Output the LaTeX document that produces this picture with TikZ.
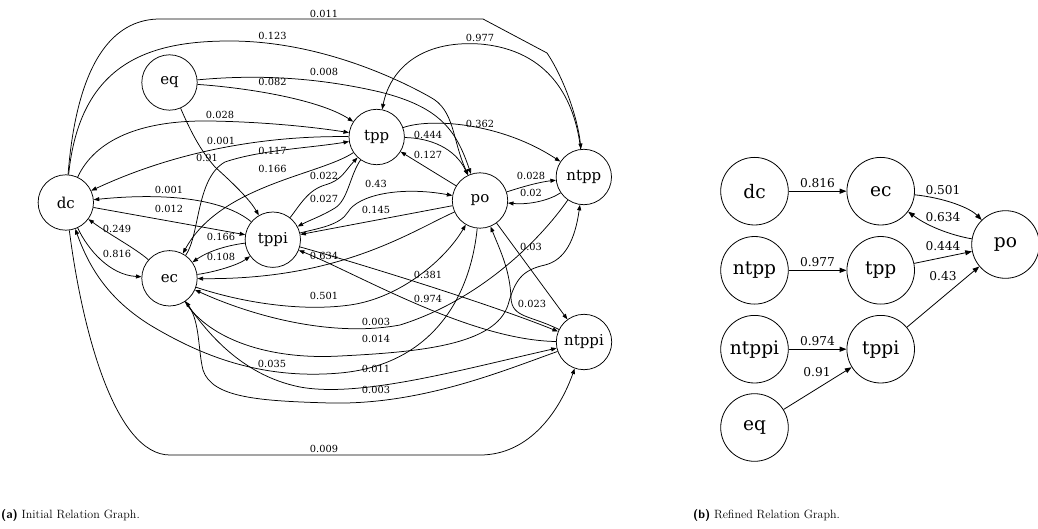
\documentclass[tikz,border=0pt]{standalone}
\usepackage{fontspec}
\newfontfamily\gvfont{DejaVu Serif}
\usetikzlibrary{arrows.meta}
\begin{document}
\begin{tikzpicture}[x=1pt,y=-1pt,
  nl/.style={circle,draw,line width=0.75pt,minimum size=55.4pt,inner sep=0pt,font=\gvfont\fontsize{15}{15}\selectfont},
  nr/.style={circle,draw,line width=0.8pt,minimum size=67.6pt,inner sep=0pt,font=\gvfont\fontsize{18.6}{18.6}\selectfont},
  ed/.style={draw,line width=0.75pt,-{Triangle[length=5.5pt,width=4pt]}},
  edr/.style={draw,line width=0.8pt,-{Triangle[length=6.8pt,width=5pt]}},
  lb/.style={font=\gvfont\fontsize{9.8}{10}\selectfont,inner sep=0pt},
  lbr/.style={font=\gvfont\fontsize{12.2}{12}\selectfont,inner sep=0pt},
  captxt/.style={anchor=base west,inner sep=0pt,font=\fontsize{12}{14}\selectfont}]
\useasboundingbox (0,0) rectangle (1038,529);

% ---------- (a) initial graph ----------
\node[nl] (dc)    at (65.8,202.5) {dc};
\node[nl] (eq)    at (169.5,82.5) {eq};
\node[nl] (tpp)   at (376.7,137) {tpp};
\node[nl] (tppi)  at (272.8,239.7) {tppi};
\node[nl] (ec)    at (169.5,278.3) {ec};
\node[nl] (po)    at (480,200.5) {po};
\node[nl] (ntpp)  at (583.8,177) {ntpp};
\node[nl] (ntppi) at (584,342) {ntppi};

\draw[ed] (dc) .. controls (78,50) and (120,19) .. (160,19) -- (483,19) -- (547,53) .. controls (565,80) and (578,120) .. (ntpp)
  node[lb] at (324,14) {0.011};
\draw[ed] (dc) .. controls (80,62) and (150,41) .. (230,41) .. controls (320,41) and (400,80) .. (430,97) .. controls (455,110) and (452,140) .. (po)
  node[lb] at (272.5,36) {0.123};
\draw[ed] (ntpp) .. controls (575,100) and (550,50) .. (480,44) .. controls (420,40) and (390,70) .. (tpp)
  node[lb] at (480,38) {0.977};
\draw[ed] (eq) .. controls (260,74) and (320,78) .. (380,92) .. controls (440,107) and (456,130) .. (po)
  node[lb] at (324,72) {0.008};
\draw[ed] (eq) .. controls (250,88) and (320,100) .. (tpp)
  node[lb] at (272.5,82) {0.082};
\draw[ed] (dc) .. controls (95,140) and (140,120) .. (210,121) .. controls (270,122) and (320,128) .. (tpp)
  node[lb] at (220,115) {0.028};
\draw[ed] (tpp) .. controls (300,136) and (200,140) .. (dc)
  node[lb] at (221,141) {0.001};
\draw[ed] (ec) .. controls (200,235) and (196,178) .. (225,162) .. controls (260,150) and (310,148) .. (tpp)
  node[lb] at (272.5,151) {0.117};
\draw[ed] (eq) .. controls (190,130) and (200,150) .. (215,167) .. controls (235,185) and (250,200) .. (tppi)
  node[lb] at (207,158) {0.91};
\draw[ed] (tpp) .. controls (320,175) and (220,185) .. (ec)
  node[lb] at (272.5,169) {0.166};
\draw[ed] (tpp) .. controls (430,118) and (500,122) .. (ntpp)
  node[lb] at (480,124) {0.362};
\draw[ed] (tpp) .. controls (430,138) and (455,148) .. (po)
  node[lb] at (428,135) {0.444};
\draw[ed] (po) -- (tpp)
  node[lb] at (428,155) {0.127};
\draw[ed] (tppi) .. controls (300,205) and (308,190) .. (325,185) .. controls (342,180) and (344,172) .. (tpp)
  node[lb] at (324,176) {0.022};
\draw[ed] (tpp) .. controls (350,175) and (348,200) .. (335,208) .. controls (322,216) and (310,220) .. (tppi)
  node[lb] at (324,199) {0.027};
\draw[ed] (tppi) .. controls (320,228) and (340,225) .. (348,212) .. controls (358,195) and (400,186) .. (po)
  node[lb] at (376,184) {0.43};
\draw[ed] (po) -- (tppi)
  node[lb] at (376,210) {0.145};
\draw[ed] (po) .. controls (525,186) and (540,182) .. (ntpp)
  node[lb] at (531,176) {0.028};
\draw[ed] (ntpp) .. controls (550,200) and (530,205) .. (po)
  node[lb] at (531,193) {0.02};
\draw[ed] (tppi) .. controls (225,200) and (170,192) .. (dc)
  node[lb] at (169,190) {0.001};
\draw[ed] (dc) -- (tppi)
  node[lb] at (169,209) {0.012};
\draw[ed] (ec) .. controls (135,248) and (110,235) .. (dc)
  node[lb] at (117,229) {0.249};
\draw[ed] (dc) .. controls (88,250) and (110,275) .. (ec)
  node[lb] at (117,254) {0.816};
\draw[ed] (tppi) .. controls (230,245) and (210,250) .. (ec)
  node[lb] at (221,237) {0.166};
\draw[ed] (ec) .. controls (215,272) and (238,265) .. (tppi)
  node[lb] at (221,257) {0.108};
\draw[ed] (po) .. controls (410,232) and (340,280) .. (ec)
  node[lb] at (324,256) {0.634};
\draw[ed] (ec) .. controls (240,302) and (300,312) .. (350,305) .. controls (400,298) and (445,260) .. (po)
  node[lb] at (324,296) {0.501};
\draw[ed] (tppi) .. controls (330,255) and (480,300) .. (ntppi)
  node[lb] at (428,275) {0.381};
\draw[ed] (ntppi) .. controls (470,340) and (360,275) .. (tppi)
  node[lb] at (428,299) {0.974};
\draw[ed] (po) -- (ntppi)
  node[lb] at (531,247) {0.03};
\draw[ed] (ntppi) .. controls (530,315) and (512,318) .. (511,298) .. controls (510,270) and (500,250) .. (po)
  node[lb] at (532,304) {0.023};
\draw[ed] (ntpp) .. controls (540,240) and (480,300) .. (400,325) .. controls (330,338) and (250,315) .. (ec)
  node[lb] at (376,322) {0.003};
\draw[ed] (ec) .. controls (210,340) and (270,360) .. (340,356) .. controls (420,352) and (495,345) .. (508,305) .. controls (515,280) and (522,270) .. (545,265) .. controls (565,260) and (575,240) .. (ntpp)
  node[lb] at (376,339) {0.014};
\draw[ed] (po) .. controls (470,300) and (430,365) .. (340,373) .. controls (260,380) and (200,355) .. (150,325) .. controls (110,300) and (90,270) .. (dc)
  node[lb] at (272,364) {0.035};
\draw[ed] (ec) .. controls (205,330) and (240,375) .. (300,387) .. controls (360,398) and (460,370) .. (ntppi)
  node[lb] at (376,369) {0.011};
\draw[ed] (ntppi) .. controls (500,372) and (420,405) .. (330,403) .. controls (260,401) and (212,398) .. (203,370) .. controls (198,350) and (200,322) .. (ec)
  node[lb] at (376,390) {0.003};
\draw[ed] (dc) .. controls (82,330) and (115,455) .. (170,455) -- (480,455) .. controls (530,455) and (560,410) .. (ntppi)
  node[lb] at (324,449) {0.009};

% ---------- (b) refined graph ----------
\node[nr] (rdc)    at (754.5,191.2) {dc};
\node[nr] (rec)    at (880.7,191.2) {ec};
\node[nr] (rpo)    at (1005.5,244.5) {po};
\node[nr] (rntpp)  at (754.5,270.3) {ntpp};
\node[nr] (rtpp)   at (880.7,270.3) {tpp};
\node[nr] (rntppi) at (754.5,349.2) {ntppi};
\node[nr] (rtppi)  at (880.7,349.2) {tppi};
\node[nr] (req)    at (754.5,427.5) {eq};

\draw[edr] (rdc) -- (rec) node[lbr] at (817.5,183) {0.816};
\draw[edr] (rntpp) -- (rtpp) node[lbr] at (817.5,262) {0.977};
\draw[edr] (rntppi) -- (rtppi) node[lbr] at (817.5,341) {0.974};
\draw[edr] (req) -- (rtppi) node[lbr] at (817,372) {0.91};
\draw[edr] (rec) .. controls (945,198) and (970,208) .. (rpo) node[lbr] at (943,190) {0.501};
\draw[edr] (rpo) .. controls (955,236) and (930,228) .. (rec) node[lbr] at (943,217) {0.634};
\draw[edr] (rtpp) -- (rpo) node[lbr] at (943,246) {0.444};
\draw[edr] (rtppi) -- (rpo) node[lbr] at (943,276) {0.43};

% ---------- captions ----------
\node[captxt] (capa) at (1,518) {{\sffamily\bfseries (a)} Initial Relation Graph.};
\node[captxt] (capb) at (693,518) {{\sffamily\bfseries (b)} Refined Relation Graph.};
\end{tikzpicture}
\end{document}
